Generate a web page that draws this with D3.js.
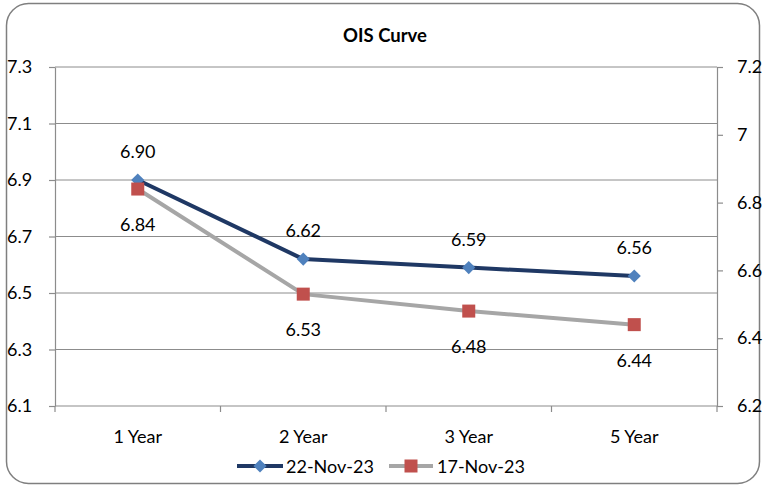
<!DOCTYPE html>
<html><head><meta charset="utf-8">
<script src="https://cdn.jsdelivr.net/npm/d3@7"></script>
<style>body{margin:0;background:#fff;}svg{display:block;}</style>
</head><body>
<svg id="c" width="763" height="487"></svg>
<script>
const categories = ["1 Year", "2 Year", "3 Year", "5 Year"];
const series1Name = "22-Nov-23";
const series1 = [6.90, 6.62, 6.59, 6.56];
const series2Name = "17-Nov-23";
const series2 = [6.84, 6.53, 6.48, 6.44];
const leftTicks = [6.1, 6.3, 6.5, 6.7, 6.9, 7.1, 7.3];
const rightTicks = [6.2, 6.4, 6.6, 6.8, 7.0, 7.2];

const svg = d3.select("#c");
const font = "Lato, 'Open Sans', sans-serif";
const L = 55, R = 717, T = 67, B = 406;

svg.append("rect").attr("x", 6.5).attr("y", 3.5).attr("width", 753).attr("height", 480)
  .attr("rx", 22).attr("fill", "#fff").attr("stroke", "#7f7f7f").attr("stroke-width", 1.5);

svg.append("text").attr("x", 385).attr("y", 42).attr("text-anchor", "middle")
  .attr("font-family", font).attr("font-weight", "bold").attr("font-size", 18.5).text("OIS Curve");

const x = d3.scaleBand().domain(categories).range([L, R]);
const yL = d3.scaleLinear().domain([6.1, 7.3]).range([B, T]);
const yR = d3.scaleLinear().domain([6.2, 7.2]).range([B, T]);

// gridlines
svg.append("g").selectAll("line").data(leftTicks.slice(1)).join("line")
  .attr("x1", L).attr("x2", R).attr("y1", d => yL(d)).attr("y2", d => yL(d))
  .attr("stroke", "#8c8c8c").attr("stroke-width", 1);

function styleAxis(g) {
  g.select(".domain").attr("stroke", "#8c8c8c").attr("stroke-width", 1.2);
  g.selectAll(".tick line").attr("stroke", "#8c8c8c").attr("stroke-width", 1.2);
  g.selectAll("text").attr("font-family", font).attr("font-size", 18).attr("fill", "#000");
}

const gl = svg.append("g").attr("transform", `translate(${L},0)`)
  .call(d3.axisLeft(yL).tickValues(leftTicks).tickFormat(d3.format(".1f")).tickSize(6).tickSizeOuter(0).tickPadding(0));
styleAxis(gl);
gl.selectAll("text").attr("text-anchor", "start").attr("x", -48);

const gr = svg.append("g").attr("transform", `translate(${R},0)`)
  .call(d3.axisRight(yR).tickValues(rightTicks).tickFormat(d => d3.format("")(+d.toFixed(1))).tickSize(6).tickSizeOuter(0).tickPadding(14));
styleAxis(gr);

const gb = svg.append("g").attr("transform", `translate(0,${B})`)
  .call(d3.axisBottom(x).tickSize(0).tickPadding(24));
styleAxis(gb);
gb.select(".domain").attr("d", `M${L},0H${R}`);
// category boundary ticks
const bounds = categories.map(c => x(c)).concat([R]);
gb.selectAll(".bt").data(bounds).join("line").attr("class", "bt")
  .attr("x1", d => d).attr("x2", d => d).attr("y1", 0).attr("y2", 6)
  .attr("stroke", "#8c8c8c").attr("stroke-width", 1.2);

const cx = c => x(c) + x.bandwidth() / 2;

// series 2 (gray, right axis)
const line2 = d3.line().x((d, i) => cx(categories[i])).y(d => yR(d));
svg.append("path").datum(series2).attr("d", line2).attr("fill", "none")
  .attr("stroke", "#a6a6a6").attr("stroke-width", 4).attr("stroke-linejoin", "round");
// series 1 (blue, left axis)
const line1 = d3.line().x((d, i) => cx(categories[i])).y(d => yL(d));
svg.append("path").datum(series1).attr("d", line1).attr("fill", "none")
  .attr("stroke", "#1f3864").attr("stroke-width", 4).attr("stroke-linejoin", "round");

const diamond = d3.symbol().type(d3.symbolDiamond2).size(110);
svg.selectAll(".m1").data(series1).join("path").attr("class", "m1")
  .attr("transform", (d, i) => `translate(${cx(categories[i])},${yL(d)})`)
  .attr("d", diamond).attr("fill", "#4f81bd");
svg.selectAll(".m2").data(series2).join("rect").attr("class", "m2")
  .attr("x", (d, i) => cx(categories[i]) - 6.5).attr("y", d => yR(d) - 6.5)
  .attr("width", 13).attr("height", 13).attr("fill", "#c0504d");

svg.selectAll(".l1").data(series1).join("text").attr("class", "l1")
  .attr("x", (d, i) => cx(categories[i])).attr("y", d => yL(d) - 22)
  .attr("text-anchor", "middle").attr("font-family", font).attr("font-size", 18)
  .text(d => d.toFixed(2));
svg.selectAll(".l2").data(series2).join("text").attr("class", "l2")
  .attr("x", (d, i) => cx(categories[i])).attr("y", d => yR(d) + 42)
  .attr("text-anchor", "middle").attr("font-family", font).attr("font-size", 18)
  .text(d => d.toFixed(2));

// legend
const lg = svg.append("g").attr("transform", "translate(0,466)");
lg.append("line").attr("x1", 237).attr("x2", 283).attr("stroke", "#1f3864").attr("stroke-width", 4);
lg.append("path").attr("transform", "translate(260,0)").attr("d", diamond).attr("fill", "#4f81bd");
lg.append("text").attr("x", 286).attr("y", 6.5).attr("font-family", font).attr("font-size", 18).text(series1Name);
lg.append("line").attr("x1", 389).attr("x2", 433).attr("stroke", "#a6a6a6").attr("stroke-width", 4);
lg.append("rect").attr("x", 404.5).attr("y", -6.5).attr("width", 13).attr("height", 13).attr("fill", "#c0504d");
lg.append("text").attr("x", 437).attr("y", 6.5).attr("font-family", font).attr("font-size", 18).text(series2Name);
</script>
</body></html>
